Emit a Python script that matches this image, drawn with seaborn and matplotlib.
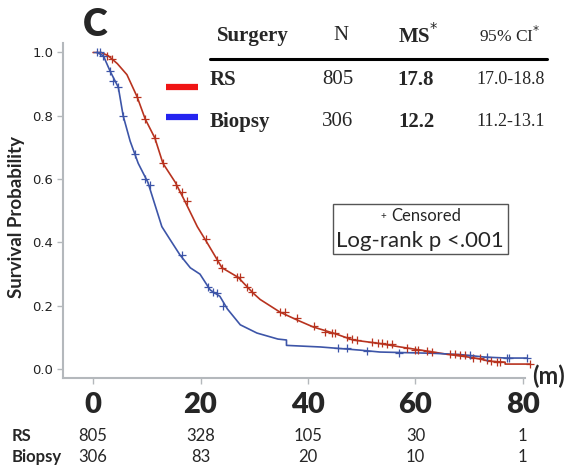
import numpy as np
import pandas as pd
import seaborn as sns
import matplotlib.pyplot as plt
from matplotlib.lines import Line2D
from matplotlib.patches import Rectangle

# Kaplan-Meier curves (months, survival probability)
rs_time = [0, 1.5, 2.8, 4.5, 6.3, 8.2, 9.7, 11.5, 13.0, 15.3, 17.1, 19.4, 21.2, 24.0,
           27.0, 29.8, 31.1, 34.8, 38.0, 41.0, 44.7, 48.4, 52.9, 57.2, 62.2, 65.9,
           70.8, 73.9, 76.7, 76.7, 81.4]
rs_surv = [1.0, 1.0, 0.99, 0.965, 0.93, 0.86, 0.79, 0.73, 0.65, 0.59, 0.53, 0.45, 0.40, 0.32,
           0.29, 0.24, 0.22, 0.18, 0.155, 0.133, 0.114, 0.092, 0.082, 0.07, 0.057, 0.047,
           0.036, 0.025, 0.022, 0.016, 0.016]
bx_time = [0.7, 1.9, 3.2, 4.7, 5.6, 6.9, 8.4, 10.2, 11.5, 12.8, 14.3, 16.2, 18.1, 19.9,
           21.8, 23.6, 25.0, 27.4, 30.5, 34.4, 36.0, 36.0, 42.3, 49.7, 53.4, 63.3, 68.3,
           73.0, 77.0, 80.8]
bx_surv = [1.0, 0.99, 0.94, 0.89, 0.80, 0.72, 0.65, 0.59, 0.52, 0.45, 0.41, 0.36, 0.32, 0.30,
           0.25, 0.23, 0.19, 0.14, 0.114, 0.095, 0.092, 0.075, 0.07, 0.06, 0.054, 0.05, 0.046,
           0.038, 0.035, 0.035]

# censored observations (+ marks)
rs_cens_t = [2.5, 3.5, 8.2, 9.7, 11.5, 13.0, 15.5, 16.5, 17.4, 21.0, 23.0, 24.0, 26.8, 27.4,
             28.7, 29.6, 34.8, 35.8, 38.0, 41.2, 43.2, 44.5, 45.0, 47.3, 48.2, 49.2, 52.0,
             53.0, 53.8, 54.7, 55.7, 58.5, 60.0, 60.5, 62.2, 63.0, 66.5, 67.4, 68.3, 69.3,
             70.8, 72.0, 73.4, 74.0, 75.2, 75.8, 81.4]
rs_cens_s = [0.99, 0.98, 0.86, 0.79, 0.73, 0.65, 0.58, 0.56, 0.53, 0.41, 0.345, 0.32, 0.29, 0.29,
             0.26, 0.245, 0.18, 0.18, 0.16, 0.135, 0.118, 0.115, 0.114, 0.10, 0.095, 0.092, 0.085,
             0.083, 0.082, 0.08, 0.078, 0.068, 0.062, 0.06, 0.057, 0.055, 0.048, 0.047, 0.046,
             0.044, 0.036, 0.034, 0.03, 0.025, 0.024, 0.022, 0.016]
bx_cens_t = [0.8, 1.2, 1.9, 3.2, 3.8, 4.7, 5.6, 7.8, 9.7, 10.6, 16.6, 21.4, 22.3, 23.0, 24.2,
             45.6, 47.3, 51.0, 57.0, 70.2, 73.4, 77.0, 77.5, 80.8]
bx_cens_s = [1.0, 1.0, 0.99, 0.94, 0.91, 0.89, 0.80, 0.68, 0.60, 0.58, 0.36, 0.26, 0.245, 0.24,
             0.20, 0.067, 0.067, 0.058, 0.05, 0.046, 0.038, 0.035, 0.035, 0.035]

# numbers at risk
risk_times = [0, 20, 40, 60, 80]
risk_rs = [805, 328, 105, 30, 1]
risk_bx = [306, 83, 20, 10, 1]

# summary table
groups = ['RS', 'Biopsy']
group_n = ['805', '306']
median_surv = ['17.8', '12.2']
median_ci = ['17.0-18.8', '11.2-13.1']

curve_red = '#b8331f'
curve_blue = '#3d55a8'

sns.set_style('white')
plt.rcParams['font.family'] = ['Lato', 'DejaVu Sans']

W, H = 569, 472
fig = plt.figure(figsize=(W / 100, H / 100), dpi=100)
# axes spans x 63..525 px, y 43..378 px (from top)
ax = fig.add_axes([63 / W, 94 / H, 462 / W, 335 / H])

rs_df = pd.DataFrame({'time': rs_time, 'surv': rs_surv})
bx_df = pd.DataFrame({'time': bx_time, 'surv': bx_surv})
sns.lineplot(data=rs_df, x='time', y='surv', sort=False, estimator=None,
             color=curve_red, lw=1.2, ax=ax, clip_on=False)
sns.lineplot(data=bx_df, x='time', y='surv', sort=False, estimator=None,
             color=curve_blue, lw=1.2, ax=ax, clip_on=False)
sns.scatterplot(x=rs_cens_t, y=rs_cens_s, marker='+', s=28, color=curve_red,
                linewidth=0.9, ax=ax, clip_on=False, zorder=3)
sns.scatterplot(x=bx_cens_t, y=bx_cens_s, marker='+', s=28, color=curve_blue,
                linewidth=0.9, ax=ax, clip_on=False, zorder=3)

ax.set_xlim(-5.6, 80.4)
ax.set_ylim(-0.028, 1.03)
sns.despine(ax=ax)
for side in ['left', 'bottom']:
    ax.spines[side].set_color('#b4b8bc')
    ax.spines[side].set_linewidth(1.5)

ax.set_xticks(risk_times)
ax.set_xticklabels([str(t) for t in risk_times], fontsize=21, fontweight='heavy')
ax.set_yticks([0, 0.2, 0.4, 0.6, 0.8, 1.0])
ax.set_yticklabels(['0.0', '0.2', '0.4', '0.6', '0.8', '1.0'], fontsize=9.5,
                   family=['Liberation Sans Narrow', 'DejaVu Sans'], color='#222222')
ax.tick_params(axis='x', length=4, width=1, color='#b4b8bc', pad=6, bottom=True)
ax.tick_params(axis='y', length=4, width=1, color='#b4b8bc', pad=3, left=True)
ax.set_xlabel('')
ax.set_ylabel('')
fig.text(17 / W, 1 - 217 / H, 'Survival Probability', rotation=90, fontsize=13.5,
         fontweight='bold', ha='center', va='center')

# panel letter and units
fig.text(95 / W, 1 - 25 / H, 'C', fontsize=27, fontweight='heavy', ha='center', va='center')
fig.text(532 / W, 1 - 376 / H, '(m)', fontsize=17, fontweight='bold', ha='left', va='center')

# censored / log-rank box
fig.add_artist(Rectangle((333 / W, 1 - 254 / H), 175 / W, 50 / H, transform=fig.transFigure,
                         fc='white', ec='#555555', lw=1))
fig.text(386 / W, 1 - 217 / H, '+', fontsize=7, ha='right', va='center')
fig.text(391 / W, 1 - 216 / H, 'Censored', fontsize=12, ha='left', va='center')
fig.text(420 / W, 1 - 241 / H, 'Log-rank p <.001', fontsize=16, ha='center', va='center')

# summary table (serif)
serif = ['Liberation Serif', 'DejaVu Serif']
head_y = 1 - 36 / H
fig.text(253 / W, head_y, 'Surgery', family=serif, fontsize=15, fontweight='bold',
         ha='center', va='center')
fig.text(341 / W, head_y, 'N', family=serif, fontsize=15, ha='center', va='center')
fig.text(418 / W, head_y, r'MS$^{*}$', family=serif, fontsize=15, fontweight='bold',
         ha='center', va='center')
fig.text(510 / W, head_y, r'95% CI$^{*}$', family=serif, fontsize=12.5, ha='center', va='center')
fig.add_artist(Line2D([210 / W, 547 / W], [1 - 59 / H, 1 - 59 / H], color='black', lw=2.2))

row_y = [1 - 80 / H, 1 - 122 / H]
legend_y = [1 - 87 / H, 1 - 117 / H]
legend_cols = ['#f01414', '#2424f0']
for i in range(len(groups)):
    fig.text(210 / W, row_y[i], groups[i], family=serif, fontsize=15, fontweight='bold',
             ha='left', va='center')
    fig.text(338 / W, row_y[i], group_n[i], family=serif, fontsize=15, ha='center', va='center')
    fig.text(416 / W, row_y[i], median_surv[i], family=serif, fontsize=15, fontweight='bold',
             ha='center', va='center')
    fig.text(511 / W, row_y[i], median_ci[i], family=serif, fontsize=13, ha='center', va='center')
    fig.add_artist(Line2D([166 / W, 198 / W], [legend_y[i], legend_y[i]],
                          color=legend_cols[i], lw=4.5, solid_capstyle='butt'))

# numbers at risk
fig.text(12 / W, 1 - 436 / H, 'RS', fontsize=12, fontweight='bold', ha='left', va='center')
fig.text(12 / W, 1 - 457 / H, 'Biopsy', fontsize=12, fontweight='bold', ha='left', va='center')
trans = ax.get_xaxis_transform()
for t, a, b in zip(risk_times, risk_rs, risk_bx):
    ax.text(t, (378 - 436) / 335, str(a), transform=trans, fontsize=12, ha='center', va='center')
    ax.text(t, (378 - 457) / 335, str(b), transform=trans, fontsize=12, ha='center', va='center')

fig.savefig('out.png', dpi=100)
